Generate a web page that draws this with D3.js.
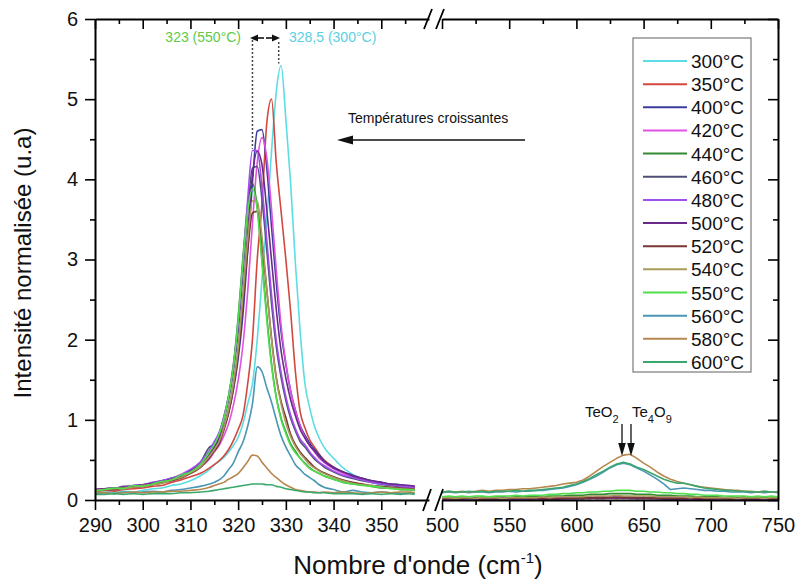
<!DOCTYPE html>
<html><head><meta charset="utf-8">
<script src="https://cdn.jsdelivr.net/npm/d3@7"></script>
<style>body{margin:0;background:#fff}svg{display:block}</style>
</head><body><svg id="c" width="798" height="581"></svg>
<script>
// ---------- DATA ----------
const temps = ["300°C","350°C","400°C","420°C","440°C","460°C","480°C","500°C","520°C","540°C","550°C","560°C","580°C","600°C"];
const colors = ["#5cdde3","#d2483f","#3c3ca0","#e052e0","#338a33","#4f4f74","#a24ef0","#6a2a8c","#7b3434","#a89c5a","#4ede4e","#4a96b4","#b8874e","#3aa86c"];

const xLeftTicks = [290,300,310,320,330,340,350];
const xLeftMinor = [295,305,315,325,335,345,355];
const xRightTicks = [500,550,600,650,700,750];
const xRightMinor = [525,575,625,675,725];
const yTicks = [0,1,2,3,4,5,6];
const yMinor = [0.5,1.5,2.5,3.5,4.5,5.5];

const xLeft = [290,292,294,296,298,300,302,304,306,308,310,312,
  314,315,316,317,318,319,320,321,322,323,324,325,326,327,328,329,330,331,332,333,334,335,336,337,338,
  340,342,344,346,348,350,352,354,356,357];
const xRight = [500,505,510,515,520,525,530,535,540,545,550,555,560,565,570,575,580,585,590,595,
  600,605,610,615,620,625,630,635,640,645,650,655,660,665,670,675,680,685,690,695,
  700,705,710,715,720,725,730,735,740,745,750];

const L300 = [0.08,0.10,0.09,0.11,0.10,0.12,0.14,0.15,0.18,0.20,0.24,0.30,
  0.38,0.44,0.48,0.53,0.60,0.68,0.78,0.95,1.20,1.45,2.00,2.75,3.50,4.35,5.10,5.42,4.75,3.95,2.95,2.10,1.45,1.15,0.92,0.77,0.66,
  0.52,0.40,0.32,0.26,0.22,0.19,0.18,0.15,0.14,0.13];
const L350 = [0.10,0.12,0.11,0.13,0.14,0.15,0.17,0.18,0.22,0.25,0.29,0.33,
  0.40,0.44,0.49,0.55,0.63,0.74,0.88,1.05,1.45,2.00,3.00,3.70,4.70,5.00,4.20,3.60,3.00,2.35,1.60,1.10,0.90,0.75,0.66,0.57,0.50,
  0.41,0.35,0.29,0.26,0.24,0.21,0.19,0.18,0.16,0.15];
const L400 = [0.12,0.14,0.15,0.15,0.18,0.19,0.21,0.24,0.27,0.31,0.36,0.44,
  0.57,0.66,0.76,0.89,1.09,1.37,1.76,2.31,3.11,3.96,4.60,4.62,4.14,3.41,2.70,2.10,1.69,1.36,1.12,0.93,0.81,0.71,0.63,0.56,0.49,
  0.41,0.35,0.31,0.27,0.24,0.22,0.20,0.19,0.17,0.17];
const L420 = [0.13,0.14,0.14,0.16,0.17,0.19,0.20,0.23,0.25,0.29,0.34,0.41,
  0.51,0.60,0.68,0.80,0.95,1.18,1.49,1.93,2.60,3.45,4.21,4.52,4.27,3.63,2.86,2.18,1.71,1.36,1.11,0.92,0.78,0.68,0.60,0.52,0.47,
  0.39,0.33,0.29,0.25,0.23,0.21,0.19,0.18,0.16,0.16];
const L440 = [0.12,0.14,0.13,0.16,0.17,0.18,0.21,0.22,0.27,0.30,0.37,0.45,
  0.60,0.71,0.83,1.03,1.30,1.69,2.28,3.02,3.68,3.95,3.66,3.00,2.30,1.70,1.28,1.02,0.85,0.70,0.61,0.52,0.46,0.40,0.36,0.33,0.30,
  0.26,0.22,0.20,0.19,0.17,0.15,0.15,0.13,0.13,0.12];
const L460 = [0.12,0.14,0.14,0.17,0.17,0.19,0.20,0.24,0.26,0.31,0.37,0.46,
  0.66,0.70,0.80,1.00,1.25,1.60,2.10,2.83,3.60,4.14,4.16,3.75,3.12,2.45,1.91,1.53,1.24,1.02,0.86,0.73,0.66,0.58,0.51,0.46,0.41,
  0.35,0.30,0.27,0.24,0.22,0.20,0.18,0.17,0.16,0.15];
const L480 = [0.13,0.14,0.15,0.16,0.18,0.19,0.22,0.24,0.27,0.32,0.38,0.47,
  0.62,0.73,0.84,1.04,1.30,1.67,2.19,2.95,3.75,4.36,4.36,3.90,3.25,2.56,1.99,1.59,1.29,1.06,0.89,0.76,0.69,0.60,0.53,0.47,0.43,
  0.36,0.31,0.28,0.25,0.22,0.20,0.19,0.17,0.16,0.16];
const L500 = [0.13,0.14,0.15,0.16,0.17,0.19,0.21,0.23,0.26,0.30,0.36,0.44,
  0.58,0.66,0.77,0.92,1.13,1.43,1.86,2.50,3.32,4.05,4.35,4.18,3.62,2.99,2.37,1.86,1.52,1.25,1.05,0.88,0.77,0.68,0.61,0.54,0.48,
  0.40,0.35,0.30,0.27,0.24,0.22,0.20,0.19,0.18,0.17];
const L520 = [0.12,0.13,0.13,0.15,0.16,0.17,0.19,0.21,0.24,0.27,0.33,0.40,
  0.53,0.61,0.70,0.87,1.08,1.39,1.82,2.45,3.11,3.58,3.60,3.20,2.62,2.02,1.53,1.23,1.03,0.82,0.69,0.60,0.53,0.47,0.41,0.37,0.34,
  0.29,0.25,0.22,0.20,0.18,0.17,0.16,0.15,0.14,0.13];
const L540 = [0.12,0.13,0.14,0.15,0.16,0.18,0.19,0.21,0.25,0.28,0.34,0.41,
  0.55,0.63,0.73,0.90,1.13,1.44,1.89,2.55,3.24,3.73,3.73,3.28,2.64,2.00,1.51,1.20,0.96,0.79,0.67,0.58,0.51,0.44,0.40,0.36,0.33,
  0.28,0.24,0.21,0.19,0.18,0.16,0.15,0.14,0.13,0.13];
const L550 = [0.11,0.13,0.15,0.14,0.18,0.17,0.20,0.23,0.25,0.31,0.35,0.44,
  0.60,0.69,0.82,1.01,1.29,1.66,2.24,2.97,3.60,3.88,3.62,2.95,2.25,1.67,1.27,1.00,0.83,0.68,0.59,0.52,0.45,0.39,0.36,0.33,0.30,
  0.26,0.22,0.20,0.18,0.17,0.16,0.14,0.13,0.13,0.12];
const L560 = [0.08,0.09,0.08,0.10,0.09,0.10,0.11,0.10,0.12,0.13,0.15,0.17,
  0.20,0.22,0.25,0.30,0.38,0.46,0.60,0.72,0.92,1.20,1.66,1.60,1.40,1.22,1.00,0.80,0.66,0.55,0.44,0.38,0.32,0.28,0.24,0.19,0.16,
  0.13,0.10,0.12,0.10,0.09,0.10,0.09,0.08,0.09,0.08];
const L580 = [0.08,0.09,0.08,0.09,0.10,0.09,0.10,0.10,0.11,0.11,0.12,0.13,
  0.16,0.18,0.20,0.22,0.26,0.29,0.33,0.40,0.48,0.56,0.55,0.47,0.40,0.33,0.28,0.23,0.19,0.16,0.13,0.12,0.11,0.10,0.10,0.09,0.10,
  0.09,0.10,0.09,0.08,0.09,0.10,0.09,0.10,0.10,0.09];
const L600 = [0.07,0.07,0.08,0.07,0.08,0.07,0.08,0.08,0.08,0.09,0.09,0.10,
  0.11,0.12,0.13,0.14,0.15,0.16,0.17,0.18,0.19,0.20,0.20,0.20,0.19,0.19,0.17,0.16,0.14,0.13,0.12,0.11,0.10,0.10,0.09,0.09,0.09,
  0.08,0.08,0.08,0.07,0.08,0.07,0.08,0.07,0.08,0.07];

const R300 = [0.02,0.03,0.02,0.02,0.03,0.02,0.01,0.02,0.03,0.02, 0.02,0.03,0.02,0.02,0.01,0.02,0.03,0.02,0.02,0.03, 0.02,0.03,0.03,0.02,0.03,0.04,0.03,0.04,0.03,0.03, 0.03,0.02,0.03,0.02,0.02,0.03,0.02,0.02,0.01,0.02, 0.02,0.03,0.02,0.02,0.01,0.02,0.02,0.03,0.02,0.02, 0.02];
const R350 = [0.01,0.02,0.01,0.02,0.02,0.01,0.02,0.03,0.01,0.02, 0.02,0.01,0.02,0.02,0.03,0.02,0.01,0.02,0.02,0.02, 0.03,0.02,0.03,0.03,0.04,0.03,0.03,0.04,0.03,0.02, 0.03,0.03,0.02,0.03,0.02,0.02,0.01,0.02,0.02,0.01, 0.02,0.02,0.01,0.02,0.02,0.02,0.01,0.02,0.02,0.01, 0.02];
const R400 = [0.01,0.01,0.02,0.01,0.01,0.02,0.01,0.01,0.02,0.01, 0.01,0.02,0.01,0.01,0.02,0.01,0.02,0.01,0.02,0.02, 0.02,0.02,0.03,0.02,0.03,0.03,0.02,0.03,0.03,0.02, 0.02,0.02,0.03,0.02,0.01,0.02,0.02,0.01,0.02,0.01, 0.01,0.02,0.01,0.01,0.02,0.01,0.01,0.02,0.01,0.01, 0.01];
const R420 = [0.02,0.02,0.03,0.02,0.02,0.02,0.03,0.02,0.02,0.01, 0.02,0.02,0.02,0.03,0.02,0.02,0.02,0.03,0.02,0.03, 0.03,0.03,0.03,0.04,0.03,0.04,0.04,0.03,0.04,0.03, 0.03,0.03,0.02,0.03,0.03,0.02,0.02,0.02,0.03,0.02, 0.02,0.02,0.01,0.02,0.02,0.02,0.02,0.01,0.02,0.02, 0.02];
const R440 = [0.03,0.04,0.03,0.04,0.03,0.03,0.04,0.03,0.04,0.04, 0.03,0.04,0.04,0.04,0.05,0.04,0.05,0.05,0.05,0.06, 0.06,0.06,0.07,0.07,0.07,0.08,0.08,0.08,0.08,0.07, 0.07,0.07,0.06,0.06,0.06,0.05,0.05,0.05,0.04,0.04, 0.04,0.04,0.03,0.04,0.03,0.04,0.03,0.03,0.04,0.03, 0.03];
const R460 = [0.01,0.02,0.01,0.01,0.02,0.01,0.02,0.01,0.01,0.02, 0.01,0.01,0.02,0.01,0.02,0.02,0.01,0.02,0.02,0.02, 0.02,0.02,0.02,0.03,0.02,0.03,0.03,0.02,0.03,0.02, 0.02,0.02,0.02,0.01,0.02,0.02,0.01,0.02,0.01,0.01, 0.02,0.01,0.01,0.02,0.01,0.01,0.02,0.01,0.01,0.02, 0.01];
const R480 = [0.02,0.01,0.02,0.02,0.01,0.02,0.02,0.03,0.02,0.02, 0.01,0.02,0.02,0.02,0.01,0.02,0.02,0.02,0.03,0.02, 0.02,0.03,0.02,0.03,0.03,0.03,0.03,0.03,0.02,0.03, 0.03,0.02,0.02,0.03,0.02,0.02,0.02,0.01,0.02,0.02, 0.02,0.01,0.02,0.02,0.01,0.02,0.02,0.02,0.01,0.02, 0.02];
const R500 = [0.01,0.02,0.02,0.01,0.02,0.02,0.01,0.02,0.01,0.02, 0.02,0.01,0.02,0.01,0.02,0.02,0.02,0.01,0.02,0.02, 0.02,0.02,0.03,0.02,0.02,0.03,0.03,0.03,0.02,0.02, 0.03,0.02,0.02,0.02,0.02,0.01,0.02,0.02,0.01,0.02, 0.01,0.02,0.02,0.01,0.02,0.01,0.02,0.01,0.02,0.01, 0.02];
const R520 = [0.02,0.02,0.01,0.02,0.02,0.02,0.01,0.02,0.02,0.01, 0.02,0.02,0.02,0.02,0.02,0.01,0.02,0.02,0.02,0.02, 0.02,0.03,0.02,0.03,0.03,0.03,0.03,0.03,0.03,0.03, 0.02,0.03,0.02,0.02,0.02,0.02,0.02,0.02,0.02,0.01, 0.02,0.02,0.02,0.01,0.02,0.02,0.01,0.02,0.02,0.02, 0.02];
const R540 = [0.03,0.03,0.02,0.03,0.03,0.02,0.03,0.03,0.03,0.02, 0.03,0.03,0.03,0.03,0.03,0.04,0.03,0.04,0.04,0.04, 0.04,0.04,0.05,0.05,0.05,0.05,0.06,0.05,0.05,0.05, 0.05,0.05,0.04,0.04,0.04,0.04,0.04,0.03,0.04,0.03, 0.03,0.03,0.03,0.03,0.02,0.03,0.03,0.03,0.02,0.03, 0.03];
const R550 = [0.04,0.05,0.04,0.05,0.04,0.05,0.05,0.04,0.05,0.05, 0.05,0.06,0.05,0.06,0.06,0.06,0.07,0.07,0.08,0.08, 0.09,0.09,0.10,0.10,0.11,0.11,0.12,0.12,0.12,0.11, 0.11,0.10,0.10,0.09,0.09,0.08,0.08,0.07,0.07,0.06, 0.06,0.06,0.05,0.05,0.05,0.05,0.04,0.05,0.04,0.05, 0.04];
const R560 = [0.09,0.10,0.09,0.10,0.09,0.10,0.10,0.09,0.10,0.10, 0.11,0.10,0.11,0.11,0.12,0.12,0.13,0.14,0.15,0.17, 0.19,0.22,0.26,0.30,0.35,0.40,0.44,0.46,0.44,0.40, 0.36,0.31,0.26,0.20,0.13,0.14,0.15,0.14,0.13,0.12, 0.12,0.11,0.11,0.10,0.10,0.10,0.09,0.10,0.09,0.10, 0.09];
const R580 = [0.10,0.11,0.10,0.11,0.10,0.11,0.12,0.11,0.12,0.12, 0.13,0.13,0.14,0.14,0.15,0.16,0.17,0.18,0.20,0.21, 0.22,0.25,0.30,0.36,0.42,0.47,0.52,0.56,0.57,0.52, 0.46,0.41,0.35,0.30,0.26,0.23,0.21,0.19,0.17,0.16, 0.15,0.14,0.13,0.12,0.12,0.11,0.11,0.10,0.11,0.10, 0.10];
const R600 = [0.10,0.11,0.10,0.10,0.11,0.10,0.11,0.10,0.11,0.11, 0.11,0.12,0.11,0.12,0.12,0.13,0.14,0.15,0.16,0.18, 0.20,0.23,0.27,0.32,0.36,0.41,0.45,0.47,0.45,0.41, 0.38,0.34,0.30,0.26,0.23,0.21,0.21,0.19,0.17,0.15, 0.14,0.13,0.12,0.12,0.11,0.11,0.10,0.10,0.11,0.10, 0.10];

const leftSeries = [L300,L350,L400,L420,L440,L460,L480,L500,L520,L540,L550,L560,L580,L600];
const rightSeries = [R300,R350,R400,R420,R440,R460,R480,R500,R520,R540,R550,R560,R580,R600];

// ---------- CHART ----------
const FONT = '"Liberation Sans", Arial, Helvetica, sans-serif';
const svg = d3.select("#c");
svg.append("rect").attr("width",798).attr("height",581).attr("fill","#fff");

const y = d3.scaleLinear().domain([0,6]).range([500,19]);
const xL = d3.scaleLinear().domain([290,360]).range([95,429]);
const xR = d3.scaleLinear().domain([500,750]).range([442,778]);

function styleAxis(g, fs){
  g.select(".domain").attr("stroke","#000").attr("stroke-width",2);
  g.selectAll(".tick line").attr("stroke","#000").attr("stroke-width",1.6);
  g.selectAll("text").attr("font-family",FONT).attr("font-size",fs).attr("fill","#111");
}
function noDomain(g){ g.select(".domain").remove(); }

// data lines
const plot = svg.append("g");
leftSeries.forEach((s,k)=>{
  const n = Math.min(s.length, xLeft.length);
  const line = d3.line().x((d,i)=>xL(xLeft[i])).y(d=>y(d)).curve(d3.curveMonotoneX);
  plot.append("path").attr("d", line(s.slice(0,n))).attr("fill","none")
    .attr("stroke",colors[k]).attr("stroke-width",1.6).attr("stroke-linejoin","round");
});
rightSeries.forEach((s,k)=>{
  const n = Math.min(s.length, xRight.length);
  const line = d3.line().x((d,i)=>xR(xRight[i])).y(d=>y(d));
  plot.append("path").attr("d", line(s.slice(0,n))).attr("fill","none")
    .attr("stroke",colors[k]).attr("stroke-width",1.6).attr("stroke-linejoin","round");
});

// bottom axes
svg.append("g").attr("transform","translate(0,500)")
  .call(d3.axisBottom(xL).tickValues(xLeftTicks).tickSize(10).tickSizeOuter(0).tickPadding(8).tickFormat(d3.format("d")))
  .call(g=>styleAxis(g,20));
svg.append("g").attr("transform","translate(0,500)")
  .call(d3.axisBottom(xL).tickValues(xLeftMinor).tickSize(5).tickFormat(""))
  .call(g=>{styleAxis(g,20); noDomain(g);});
svg.append("g").attr("transform","translate(0,500)")
  .call(d3.axisBottom(xR).tickValues(xRightTicks).tickSize(10).tickSizeOuter(0).tickPadding(8).tickFormat(d3.format("d")))
  .call(g=>styleAxis(g,20));
svg.append("g").attr("transform","translate(0,500)")
  .call(d3.axisBottom(xR).tickValues(xRightMinor).tickSize(5).tickFormat(""))
  .call(g=>{styleAxis(g,20); noDomain(g);});
// top axes (inward ticks)
svg.append("g").attr("transform","translate(0,19)")
  .call(d3.axisTop(xL).tickValues(xLeftTicks).tickSize(-10).tickSizeOuter(0).tickFormat(""))
  .call(g=>styleAxis(g,20));
svg.append("g").attr("transform","translate(0,19)")
  .call(d3.axisTop(xL).tickValues(xLeftMinor).tickSize(-5).tickFormat(""))
  .call(g=>{styleAxis(g,20); noDomain(g);});
svg.append("g").attr("transform","translate(0,19)")
  .call(d3.axisTop(xR).tickValues(xRightTicks).tickSize(-10).tickSizeOuter(0).tickFormat(""))
  .call(g=>styleAxis(g,20));
svg.append("g").attr("transform","translate(0,19)")
  .call(d3.axisTop(xR).tickValues(xRightMinor).tickSize(-5).tickFormat(""))
  .call(g=>{styleAxis(g,20); noDomain(g);});
// left axis
svg.append("g").attr("transform","translate(95,0)")
  .call(d3.axisLeft(y).tickValues(yTicks).tickSize(10).tickSizeOuter(0).tickPadding(7).tickFormat(d3.format("d")))
  .call(g=>styleAxis(g,20));
svg.append("g").attr("transform","translate(95,0)")
  .call(d3.axisLeft(y).tickValues(yMinor).tickSize(5).tickFormat(""))
  .call(g=>{styleAxis(g,20); noDomain(g);});
// right axis (inward ticks)
svg.append("g").attr("transform","translate(778,0)")
  .call(d3.axisRight(y).tickValues(yTicks).tickSize(-10).tickSizeOuter(0).tickFormat(""))
  .call(g=>styleAxis(g,20));
svg.append("g").attr("transform","translate(778,0)")
  .call(d3.axisRight(y).tickValues(yMinor).tickSize(-5).tickFormat(""))
  .call(g=>{styleAxis(g,20); noDomain(g);});

// axis break marks
const brk = svg.append("g").attr("stroke","#000").attr("stroke-width",1.8);
[[423,511,431,489],[435,511,443,489],[424,29,432,9],[436,29,444,9]].forEach(s=>{
  brk.append("line").attr("x1",s[0]).attr("y1",s[1]).attr("x2",s[2]).attr("y2",s[3]);
});

// axis titles
const xt = svg.append("text").attr("x",418).attr("y",574).attr("text-anchor","middle")
  .attr("font-family",FONT).attr("font-size",26).attr("fill","#111");
xt.append("tspan").text("Nombre d'onde (cm");
xt.append("tspan").attr("dy",-11).attr("font-size",15).text("-1");
xt.append("tspan").attr("dy",11).text(")");
svg.append("text").attr("transform","translate(31,263) rotate(-90)").attr("text-anchor","middle")
  .attr("font-family",FONT).attr("font-size",24).attr("fill","#111").text("Intensité normalisée (u.a)");

// helper arrow
function arrow(x1,y1,x2,y2,len,hw,color,sw){
  const a = Math.atan2(y2-y1,x2-x1);
  const bx = x2 - len*Math.cos(a), by = y2 - len*Math.sin(a);
  svg.append("line").attr("x1",x1).attr("y1",y1).attr("x2",bx).attr("y2",by)
    .attr("stroke",color).attr("stroke-width",sw);
  const px = -Math.sin(a)*hw, py = Math.cos(a)*hw;
  svg.append("polygon").attr("points",`${x2},${y2} ${bx+px},${by+py} ${bx-px},${by-py}`).attr("fill",color);
}

// peak shift annotation
svg.append("line").attr("x1",xL(323)).attr("x2",xL(323)).attr("y1",40).attr("y2",y(4.38))
  .attr("stroke","#444").attr("stroke-width",1.5).attr("stroke-dasharray","2,2");
svg.append("line").attr("x1",xL(328.5)).attr("x2",xL(328.5)).attr("y1",42).attr("y2",y(5.42)-2)
  .attr("stroke","#444").attr("stroke-width",1.5).attr("stroke-dasharray","2,2");
arrow(264,38,250,38,8,3.5,"#111",1.6);
arrow(266,38,280,38,8,3.5,"#111",1.6);
svg.append("text").attr("x",241).attr("y",42).attr("text-anchor","end").attr("font-family",FONT)
  .attr("font-size",14).attr("fill","#62c94a").text("323 (550°C)");
svg.append("text").attr("x",289).attr("y",42).attr("font-family",FONT)
  .attr("font-size",14).attr("fill","#5ccfe0").text("328,5 (300°C)");

// temperature trend annotation
svg.append("text").attr("x",348).attr("y",123).attr("font-family",FONT).attr("font-size",14)
  .attr("fill","#111").text("Températures croissantes");
arrow(525,140,337,140,16,4.5,"#111",1.6);

// TeO2 / Te4O9 annotation
const t1 = svg.append("text").attr("x",585).attr("y",417).attr("font-family",FONT).attr("font-size",15).attr("fill","#111");
t1.append("tspan").text("TeO");
t1.append("tspan").attr("dy",6).attr("font-size",11).text("2");
const t2 = svg.append("text").attr("x",632).attr("y",417).attr("font-family",FONT).attr("font-size",15).attr("fill","#111");
t2.append("tspan").text("Te");
t2.append("tspan").attr("dy",6).attr("font-size",11).text("4");
t2.append("tspan").attr("dy",-6).text("O");
t2.append("tspan").attr("dy",6).attr("font-size",11).text("9");
arrow(622,424,622,456,13,3.8,"#111",1.3);
arrow(631,424,631,456,13,3.8,"#111",1.3);

// legend
const lg = svg.append("g");
lg.append("rect").attr("x",633).attr("y",38).attr("width",118).attr("height",334)
  .attr("fill","#fff").attr("stroke","#7a7a7a").attr("stroke-width",1.2);
temps.forEach((t,i)=>{
  const yy = 61 + i*23.15;
  lg.append("line").attr("x1",643).attr("x2",687).attr("y1",yy).attr("y2",yy)
    .attr("stroke",colors[i]).attr("stroke-width",2);
  lg.append("text").attr("x",691).attr("y",yy+7).attr("font-family",FONT).attr("font-size",19)
    .attr("fill","#111").text(t);
});
</script></body></html>
